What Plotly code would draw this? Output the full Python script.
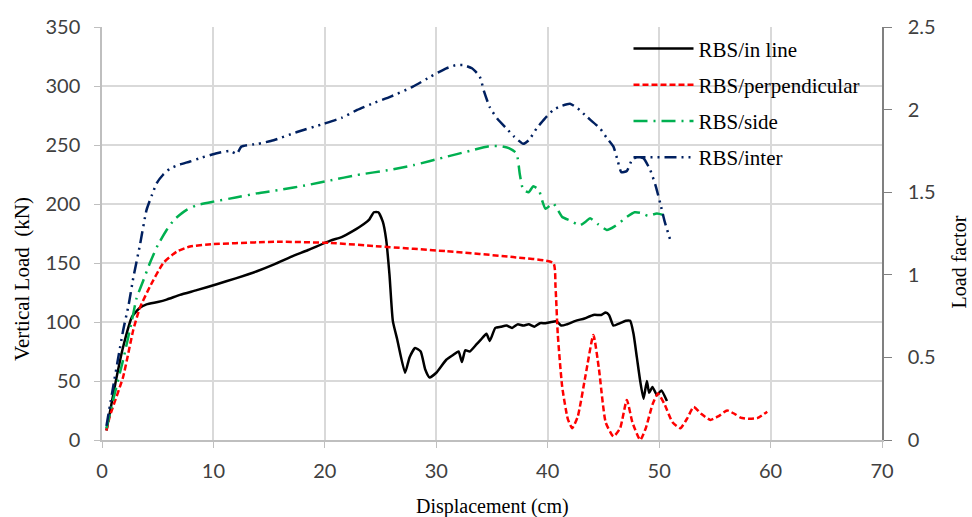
import plotly.graph_objects as go

# ---------------- data ----------------
inline_x = [0.4, 1.2, 1.9, 2.7, 3.4, 4.0, 5.0, 5.8, 7.0, 8.5, 10.3, 12.0, 13.9, 15.5, 16.9,
            18.5, 20.5, 21.5, 22.5, 23.5, 24.0, 24.4, 24.8, 25.2, 25.5, 25.8, 26.1, 26.5,
            27.2, 27.6, 28.1, 28.6, 29.0, 29.4, 30.0, 30.9, 31.5, 32.0, 32.3, 32.6, 33.0,
            33.6, 34.0, 34.5, 34.8, 35.3, 35.8, 36.3, 36.8, 37.3, 37.8, 38.3, 38.8, 39.3,
            39.8, 40.3, 40.8, 41.2, 41.7, 42.5, 43.3, 44.1, 44.8, 45.2, 45.5, 45.9, 46.5,
            47.0, 47.4, 47.7, 48.0, 48.3, 48.6, 48.9, 49.1, 49.4, 49.8, 50.2, 50.7]
inline_y = [8, 48, 79, 104.5, 112, 115, 117, 119, 123, 127, 132, 137, 143, 149, 155,
            161, 169, 172, 177, 183, 187, 193, 193, 185, 170, 140, 101, 85,
            57, 70, 78, 75, 60, 53, 57, 68, 72, 75, 66, 76, 75,
            81, 85, 90, 84, 95, 96, 97, 95, 98, 97, 98, 96, 99,
            99, 100, 100.5, 97, 98, 101, 103, 106, 106, 108, 106, 97, 99,
            101, 101, 90, 70, 50, 35, 50, 40, 45, 38, 42, 33]

perp_x = [0.4, 0.7, 1.9, 2.8, 3.4, 4.3, 5.5, 6.7, 7.9, 10.0, 13.9, 16.0, 20.5, 25.0, 30.9,
          36.9, 40.5, 40.7, 40.9, 41.3, 41.8, 42.2, 42.7, 43.4, 44.1, 44.6, 45.2, 45.9, 46.5,
          47.1, 47.6, 48.3, 48.8, 49.4, 49.9, 50.5, 51.2, 51.9, 52.5, 53.1, 53.8, 54.6,
          55.3, 56.1, 56.8, 57.3, 58.0, 58.8, 59.7]
perp_y = [8, 20, 53.6, 93, 112, 130, 150, 159.6, 164, 166, 167.5, 168, 167, 164, 160,
          155, 150, 130, 90, 45, 18, 10, 20, 55, 89, 60, 15, 3, 10,
          34, 15, 0, 10, 30, 39.5, 30, 15, 10, 18, 28, 22, 17,
          20, 25, 22, 19, 18, 18.5, 24]

side_x = [0.4, 1.0, 1.9, 2.7, 3.1, 3.7, 4.3, 5.0, 5.8, 6.5, 7.6, 8.5, 10.0, 12.0, 13.9,
          16.0, 18.4, 20.5, 22.9, 25.9, 28.0, 30.9, 33.0, 34.8, 35.8, 36.6, 37.2, 37.5,
          37.8, 38.3, 38.7, 39.2, 39.5, 39.8, 40.5, 40.9, 41.3, 42.0, 42.9, 43.4, 43.8,
          44.5, 45.3, 46.0, 47.1, 47.8, 48.3, 49.0, 49.8, 50.4]
side_y = [10, 34, 68, 102, 120, 135, 150, 165, 178, 187, 195, 199, 202, 205.5, 209,
          212, 216, 220, 224.6, 229, 233, 240, 245, 249, 249, 247, 243, 225,
          212, 210, 215, 212, 203, 196, 200.5, 195, 189, 186, 182, 185, 188,
          183, 178, 181, 189, 193, 192.6, 190, 192, 190.7]

inter_x = [0.4, 1.0, 1.5, 1.9, 2.4, 2.8, 3.4, 4.0, 4.5, 4.9, 5.5, 6.1, 7.0, 7.9, 9.0,
           10.3, 11.5, 12.1, 12.5, 14.0, 15.4, 17.5, 19.9, 21.5, 22.9, 24.5, 25.9, 27.9,
           29.5, 30.9, 31.7, 32.4, 33.2, 33.9, 34.3, 34.8, 35.5, 36.3, 37.0, 37.8, 38.3,
           39.0, 39.7, 40.5, 41.2, 42.0, 42.7, 43.5, 44.7, 45.3, 45.9, 46.3, 46.6, 47.1,
           47.6, 48.2, 48.6, 49.2, 49.7, 50.1, 50.5, 51.0]
inter_y = [12, 45, 72, 93, 115, 137, 165, 195, 208, 217.5, 225, 230, 233.5, 236, 239.5,
           243, 245, 242.4, 248.6, 251, 254, 261, 268, 273, 279.7, 286, 291, 299.4,
           308, 315, 317.5, 317.8, 315, 308, 295, 282, 272, 264, 257, 251, 254,
           264, 272, 279.7, 283, 285, 281, 274, 264, 256, 248.6, 236, 227, 228,
           238, 240, 238.7, 228.8, 215, 200.5, 185, 169.5]

names = ["RBS/in line", "RBS/perpendicular", "RBS/side", "RBS/inter"]
colors = ["#000000", "#FF0000", "#00B050", "#002060"]
dashes = ["solid", "6px,3px", "14px,6px,2px,6px", "12px,5px,2px,5px,2px,5px"]

x_ticks = [0, 10, 20, 30, 40, 50, 60, 70]
y_ticks = [0, 50, 100, 150, 200, 250, 300, 350]
y2_ticks = [0, 0.5, 1, 1.5, 2, 2.5]
y2_labels = ["0", "0.5", "1", "1.5", "2", "2.5"]

# ---------------- figure ----------------
fig = go.Figure()
series = [(inline_x, inline_y), (perp_x, perp_y), (side_x, side_y), (inter_x, inter_y)]
for i, (xs, ys) in enumerate(series):
    fig.add_trace(go.Scatter(
        x=xs, y=ys, mode="lines", name=names[i], legendgroup=names[i],
        line=dict(color=colors[i], width=2.5, dash=dashes[i], shape="spline", smoothing=0.5),
    ))

# secondary axis carrier (load factor = load / 140)
fig.add_trace(go.Scatter(x=[0], y=[0], yaxis="y2", mode="markers",
                         marker=dict(opacity=0), showlegend=False, hoverinfo="skip"))

tick_font = dict(family="Lato", size=20, color="#404040")
serif = "Liberation Serif"

fig.update_layout(
    width=972, height=517,
    margin=dict(l=102, r=90, t=27, b=77),
    paper_bgcolor="white", plot_bgcolor="white",
    showlegend=True,
    legend=dict(x=0.675, y=0.997, xanchor="left", yanchor="top",
                bgcolor="rgba(0,0,0,0)", font=dict(family=serif, size=21, color="#000"),
                traceorder="grouped", tracegroupgap=6, itemwidth=60),
    xaxis=dict(range=[0, 70], tickvals=x_ticks, showgrid=True, gridcolor="#D9D9D9", gridwidth=1.5,
               showline=True, linecolor="#BFBFBF", linewidth=1.5, ticks="outside", ticklen=6,
               tickcolor="#BFBFBF", tickfont=tick_font, zeroline=False, ticklabelstandoff=6),
    yaxis=dict(range=[0, 350], tickvals=y_ticks, showgrid=True, gridcolor="#D9D9D9", gridwidth=1.5,
               showline=True, linecolor="#BFBFBF", linewidth=1.5, ticks="outside", ticklen=6,
               tickcolor="#BFBFBF", tickfont=tick_font, zeroline=False, ticklabelstandoff=10),
    yaxis2=dict(range=[0, 2.5], tickvals=y2_ticks, ticktext=y2_labels, overlaying="y", side="right",
                showgrid=False, showline=True, linecolor="#808080", linewidth=1.5, ticks="outside",
                ticklen=8, tickcolor="#808080", tickfont=tick_font, zeroline=False, ticklabelstandoff=12),
    annotations=[
        dict(text="Displacement (cm)", xref="paper", yref="paper", x=0.5, y=0, yshift=-66,
             showarrow=False, font=dict(family=serif, size=20, color="#000"), yanchor="middle"),
        dict(text="Vertical Load  (kN)", xref="paper", yref="paper", x=0, xshift=-80, y=0.39,
             textangle=-90, showarrow=False, font=dict(family=serif, size=21, color="#000"),
             xanchor="center", yanchor="middle"),
        dict(text="Load factor", xref="paper", yref="paper", x=1, xshift=77, y=0.43,
             textangle=-90, showarrow=False, font=dict(family=serif, size=20, color="#000"),
             xanchor="center", yanchor="middle"),
    ],
)

fig.write_html("out.html")
